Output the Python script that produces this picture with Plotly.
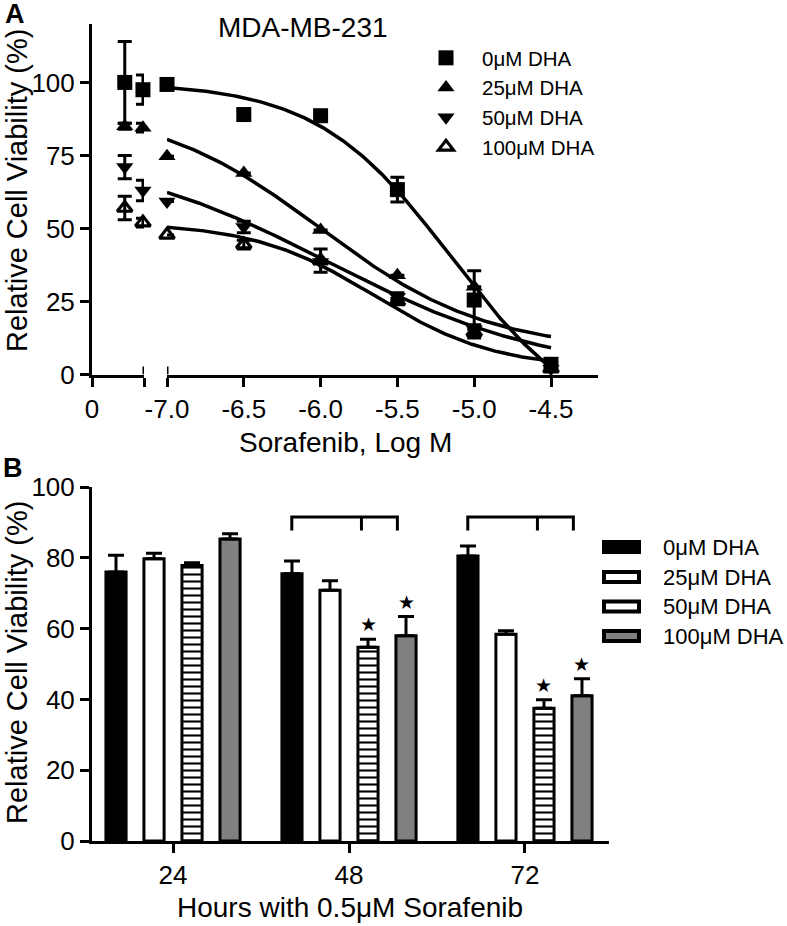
import numpy as np
import plotly.graph_objects as go

W, H = 787, 926
FONT = "Liberation Sans, Arial, Helvetica, sans-serif"

# ---------------- Panel A data ----------------
series_names = ["0\u03bcM DHA", "25\u03bcM DHA", "50\u03bcM DHA", "100\u03bcM DHA"]
log_conc = [-7.0, -6.5, -6.0, -5.5, -5.0, -4.5]
viab_0 = [99.3, 89.0, 88.6, 63.3, 25.5, 3.5]
viab_25 = [74.7, 69.0, 49.5, 34.0, 30.0, 2.0]
viab_50 = [59.2, 50.5, 38.5, 26.5, 15.5, 2.0]
viab_100 = [47.8, 44.5, 39.0, 25.0, 14.5, 2.0]
err_0 = [0, 1.5, 0, 4.2, 10.0, 0]
err_25 = [0, 0, 0, 0, 0, 0]
err_50 = [0, 2.0, 0, 1.5, 1.5, 0]
err_100 = [0, 1.5, 4.0, 1.0, 2.0, 0]

# control (no sorafenib) points on the "0" axis segment
ctrl_pos = [0.63, 0.98]
ctrl_0 = [100.0, 97.5]
ctrl_25 = [85.0, 84.5]
ctrl_50 = [71.0, 63.0]
ctrl_100 = [57.0, 52.0]
ctrl_err_0 = [14.0, 5.0]
ctrl_err_25 = [1.0, 1.5]
ctrl_err_50 = [4.0, 3.5]
ctrl_err_100 = [4.0, 1.5]

# fitted 4-parameter logistic curves: top, bottom, logIC50, hill
fit_top = [100.0, 92.0, 77.0, 52.0]
fit_bottom = [-20.0, 8.0, 0.0, 2.0]
fit_logic50 = [-5.147, -6.0, -5.95, -5.65]
fit_hill = [0.99, 0.8, 0.6, 1.1]

xticks_a = [-7.0, -6.5, -6.0, -5.5, -5.0, -4.5]
yticks_a = [0, 25, 50, 75, 100]

# ---------------- Panel B data ----------------
hours = [24, 48, 72]
bar_0 = [76.0, 75.5, 80.5]
bar_25 = [79.7, 70.8, 58.4]
bar_50 = [77.8, 54.7, 37.5]
bar_100 = [85.3, 58.0, 41.0]
bar_err_0 = [4.7, 3.6, 2.8]
bar_err_25 = [1.6, 2.7, 1.0]
bar_err_50 = [0.8, 2.3, 2.4]
bar_err_100 = [1.5, 5.4, 4.8]
sig_50 = [False, True, True]
sig_100 = [False, True, True]
bracket_hours = [48, 72]
yticks_b = [0, 20, 40, 60, 80, 100]


def px_x(x):
    return x / W


def px_y(y):
    return 1 - y / H


def nz(v):
    return [e if e else None for e in v]


fig = go.Figure()

viab = [viab_0, viab_25, viab_50, viab_100]
errs = [err_0, err_25, err_50, err_100]
ctrl = [ctrl_0, ctrl_25, ctrl_50, ctrl_100]
ctrl_err = [ctrl_err_0, ctrl_err_25, ctrl_err_50, ctrl_err_100]
symbols = ["square", "triangle-up", "triangle-down", "triangle-up-open"]
msize = [15, 15, 15, 13]

# fitted curves
xfit = np.linspace(log_conc[0], log_conc[-1], 200)
for i in range(4):
    yfit = fit_bottom[i] + (fit_top[i] - fit_bottom[i]) / (1 + 10 ** ((xfit - fit_logic50[i]) * fit_hill[i]))
    fig.add_trace(go.Scatter(x=xfit, y=yfit, xaxis="x2", yaxis="y", mode="lines",
                             line=dict(color="black", width=3.5), showlegend=False,
                             hoverinfo="skip"))

for i in range(4):
    mk = dict(symbol=symbols[i], size=msize[i], color="black",
              line=dict(color="black", width=3.2 if i == 3 else 0))
    eb = dict(type="data", array=nz(errs[i]), visible=True, thickness=3, width=7, color="black")
    fig.add_trace(go.Scatter(x=log_conc, y=viab[i], xaxis="x2", yaxis="y", mode="markers",
                             marker=mk, error_y=eb, name=series_names[i], showlegend=True,
                             cliponaxis=False, legend="legend"))
    eb2 = dict(type="data", array=nz(ctrl_err[i]), visible=True, thickness=3, width=7, color="black")
    fig.add_trace(go.Scatter(x=ctrl_pos, y=ctrl[i], xaxis="x", yaxis="y", mode="markers",
                             marker=mk, error_y=eb2, showlegend=False, cliponaxis=False))

# ---------------- Panel B bars ----------------
bars = [bar_0, bar_25, bar_50, bar_100]
bar_errs = [bar_err_0, bar_err_25, bar_err_50, bar_err_100]
bar_fill = ["black", "white", "white", "#808080"]
for i in range(4):
    marker = dict(color=bar_fill[i], line=dict(color="black", width=3))
    if i == 2:
        marker["pattern"] = dict(shape="-", size=7, solidity=0.3, fgcolor="black",
                                 bgcolor="white", fillmode="replace")
    fig.add_trace(go.Bar(x=hours, y=bars[i], xaxis="x3", yaxis="y3", marker=marker,
                         error_y=dict(type="data", array=bar_errs[i], arrayminus=[0] * len(hours),
                                      symmetric=False, thickness=3, width=8, color="black"),
                         showlegend=False, name=series_names[i]))

fig.update_layout(barmode="group", bargap=0.136, bargroupgap=0.47)

axis_common = dict(showline=True, linecolor="black", linewidth=3, ticks="outside",
                   ticklen=9, tickwidth=3, tickcolor="black", showgrid=False, zeroline=False,
                   automargin=False,
                   tickfont=dict(family=FONT, size=26, color="black"))

fig.update_layout(
    template="none",
    width=W, height=H, margin=dict(l=0, r=0, t=0, b=0, pad=0, autoexpand=False),
    paper_bgcolor="white", plot_bgcolor="white",
    font=dict(family=FONT, color="black"),
    xaxis=dict(domain=[px_x(92), px_x(144)], range=[0, 1], anchor="y",
               tickvals=[0, 1], ticktext=["0", ""], **axis_common),
    xaxis2=dict(domain=[px_x(167), px_x(598)], range=[-7.0, -4.194], anchor="y",
                tickvals=xticks_a, ticktext=["%.1f" % v for v in xticks_a], **axis_common),
    yaxis=dict(domain=[px_y(374.5), px_y(24)], range=[0, 120], anchor="x",
               tickvals=yticks_a, **axis_common),
    xaxis3=dict(domain=[px_x(92), px_x(609)], range=[12.95, 83.46], anchor="y3",
                tickvals=hours, **axis_common),
    yaxis3=dict(domain=[px_y(841), px_y(487)], range=[0, 100], anchor="x3",
                tickvals=yticks_b, **axis_common),
    legend=dict(x=px_x(410), y=px_y(38), xanchor="left", yanchor="top",
                font=dict(family=FONT, size=20.5, color="black"), itemwidth=62,
                bgcolor="rgba(0,0,0,0)", borderwidth=0, tracegroupgap=0),
)

# axis-break end caps (extend upward across the axis line)
cap_h = 8 * 120 / 350.5
for xr, xv in [("x", 1), ("x2", -7.0)]:
    fig.add_shape(type="line", xref=xr, yref="y", x0=xv, x1=xv, y0=0, y1=cap_h,
                  line=dict(color="black", width=3))

ann = []
ann.append(dict(text="<b>A</b>", x=px_x(15), y=px_y(14), font=dict(size=27)))
ann.append(dict(text="MDA-MB-231", x=px_x(303), y=px_y(28), font=dict(size=28)))
ann.append(dict(text="Relative Cell Viability (%)", x=px_x(17), y=px_y(191), textangle=-90,
                font=dict(size=29)))
ann.append(dict(text="Sorafenib, Log M", x=px_x(345), y=px_y(442), font=dict(size=28)))
ann.append(dict(text="<b>B</b>", x=px_x(13), y=px_y(468), font=dict(size=27)))
ann.append(dict(text="Relative Cell Viability (%)", x=px_x(17), y=px_y(663), textangle=-90,
                font=dict(size=29)))
ann.append(dict(text="Hours with 0.5\u03bcM Sorafenib", x=px_x(350), y=px_y(907),
                font=dict(size=28)))
for a in ann:
    a.update(xref="paper", yref="paper", showarrow=False, xanchor="center", yanchor="middle")
    a["font"].update(family=FONT, color="black")
    fig.add_annotation(**a)

# significance stars
slot = 24 * (1 - 0.136) / 4
for i, (vals, es, sig) in enumerate([(bar_50, bar_err_50, sig_50), (bar_100, bar_err_100, sig_100)]):
    idx = 2 + i
    for h, v, e, s in zip(hours, vals, es, sig):
        if s:
            fig.add_annotation(x=h + (idx - 1.5) * slot, y=v + e, xref="x3", yref="y3",
                               text="\u2605", showarrow=False, yanchor="bottom", yshift=2,
                               font=dict(family="DejaVu Sans", size=19, color="black"))

# comparison brackets
for h in bracket_hours:
    xl, xm, xr_ = h - 7.8, h + 1.7, h + 6.6
    ytop, yend = 91.5, 87.7
    fig.add_shape(type="path", xref="x3", yref="y3",
                  path=f"M {xl},{yend} L {xl},{ytop} L {xr_},{ytop} L {xr_},{yend} M {xm},{ytop} L {xm},{yend}",
                  line=dict(color="black", width=3))

# manual legend for panel B (wide bar swatches)
rows_b = [547, 577, 606.5, 636]
for i, name in enumerate(series_names):
    yc = rows_b[i]
    fig.add_shape(type="rect", xref="paper", yref="paper", x0=px_x(604), x1=px_x(639),
                  y0=px_y(yc + 5), y1=px_y(yc - 5), fillcolor=bar_fill[i],
                  line=dict(color="black", width=4))
    fig.add_annotation(text=name, xref="paper", yref="paper", x=px_x(661), y=px_y(yc),
                       xanchor="left", yanchor="middle", showarrow=False,
                       font=dict(family=FONT, size=22, color="black"))

fig.write_html("out.html", config={"displayModeBar": False},
               post_script="document.body.style.margin='0px';")
